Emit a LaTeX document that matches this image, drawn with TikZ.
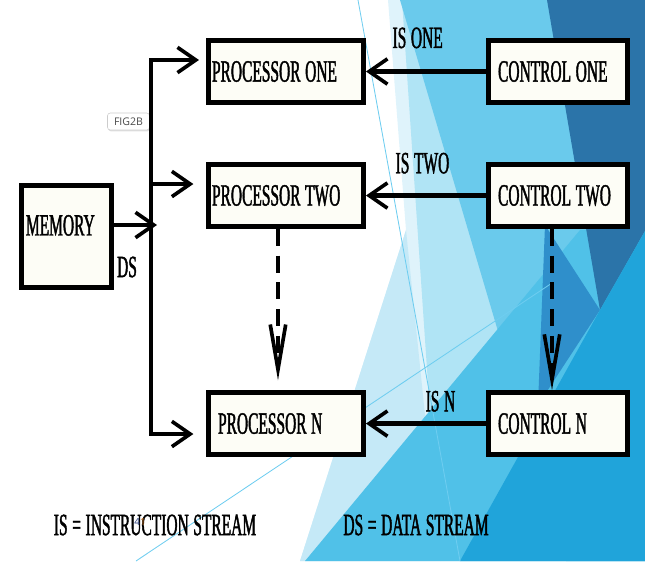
\documentclass[tikz,border=0pt]{standalone}
\usepackage{fontspec}
\usepackage{xcolor}
\usepackage{tikz}
\usetikzlibrary{arrows.meta,positioning,shadows}
\newfontfamily\slidefont[FakeStretch=0.5,FakeBold=1.3,WordSpace=1.2]{Liberation Serif}
\newfontfamily\tagfont{Open Sans}
\tikzset{
  font={\slidefont\fontsize{22pt}{24pt}\selectfont}
}
\definecolor{boxfill}{RGB}{253,253,246}
\definecolor{bgPale}{RGB}{223,243,251}
\definecolor{bgPaleB}{RGB}{197,233,247}
\definecolor{bgLight}{RGB}{176,228,245}
\definecolor{bgMid}{RGB}{106,202,236}
\definecolor{bgTeal}{RGB}{80,193,232}
\definecolor{bgDark}{RGB}{43,116,169}
\definecolor{bgMed}{RGB}{47,143,203}
\definecolor{bgBright}{RGB}{32,164,218}
\definecolor{bgLine}{RGB}{110,205,240}
\definecolor{numblue}{RGB}{40,60,120}
\definecolor{numorange}{RGB}{200,110,30}
\tikzstyle{block}=[draw, line width=3.5pt, fill=boxfill, minimum height=1.55cm, align=flush left, on grid]
\tikzstyle{proc}=[block, inner xsep=0.0875cm, text width=3.7cm]
\tikzstyle{ctrl}=[block, inner xsep=0.2375cm, text width=3cm]
\tikzstyle{line}=[draw, line width=3pt, -{Straight Barb[length=13pt,width=18pt,line width=2.6pt]}]
\tikzstyle{dline}=[draw, line width=3pt, dash pattern=on 12pt off 7pt, -{Straight Barb[length=32pt,width=11pt,line width=2.6pt]}]
\tikzstyle{lab}=[inner sep=0pt]
\tikzstyle{tag}=[draw=black!20, fill=white, rounded corners=2pt, minimum width=1.05cm, minimum height=0.425cm, inner sep=0pt,
  font={\tagfont\fontsize{7.5pt}{9pt}\selectfont}, text=black!70, drop shadow={shadow xshift=0.5pt, shadow yshift=-1pt, opacity=0.25}]

\begin{document}
\begin{tikzpicture}[x=0.025cm, y=-0.025cm, node distance=3cm]
\useasboundingbox (0,0) rectangle (645,561);

% slide background
\fill[bgPale] (388,0) -- (645,0) -- (645,561) -- (300,561) -- (406,230) -- cycle;
\fill[bgPaleB] (300,561) -- (406,230) -- (440,561) -- cycle;
\fill[bgLight] (402,0) -- (645,0) -- (645,561) -- (440,561) -- cycle;
\fill[bgMid] (400,0) -- (645,0) -- (645,561) -- (566,561) -- cycle;
\fill[bgTeal] (305,561) -- (580,230) -- (645,230) -- (645,561) -- cycle;
\fill[bgDark] (547,0) -- (645,0) -- (645,231) -- (600,310) -- cycle;
\fill[bgMed] (545,225) -- (600,310) -- (538,405) -- cycle;
\fill[bgBright] (460,561) -- (600,310) -- (645,231) -- (645,561) -- cycle;
\draw[bgLine, line width=0.6pt] (358,0) -- (460,561);
\draw[bgLine, line width=0.6pt] (136,561) -- (552,283);

\node[block, minimum width=2.25cm, minimum height=2.55cm, inner xsep=0.1125cm, text width=2.025cm] (mem) at (66.5,236.5) {\raisebox{16pt}{MEMORY}};

\node[proc] (pone) at (286,71.5) {PROCESSOR ONE};
\node[proc, below=3.1cm of pone] (ptwo) {PROCESSOR TWO};
\node[proc, below=5.7cm of ptwo] (pn) {\hspace*{4.3pt}PROCESSOR N};

\node[ctrl, right=6.8cm of pone] (cone) {CONTROL ONE};
\node[ctrl, right=6.8cm of ptwo] (ctwo) {CONTROL TWO};
\node[ctrl, right=6.8cm of pn] (cn) {CONTROL N};

\node[tag] (fig) at (128.5,121.5) {FIG2B};

% data stream bus
\coordinate (bus1) at (151,60);
\coordinate (bus2) at (151,184);
\coordinate (busN) at (151,434);
\coordinate (dsin) at (157,225);

\draw[line, shorten >=5pt] (bus2) -- (bus1) -- (bus1 -| pone.west);
\draw[line, shorten >=9pt] (bus2) -- (bus2 -| ptwo.west);
\draw[line, shorten >=9pt] (bus2) -- (busN) -- (busN -| pn.west);
\draw[line] (mem.east |- dsin) -- (dsin);
\node[lab] (ds) at (127,267) {DS};

% instruction streams
\draw[line] (cone) -- (pone) node[lab, pos=.57, above=15pt] {IS ONE};
\draw[line] (ctwo) -- (ptwo) node[lab, pos=.53, above=14pt] {IS TWO};
\draw[line] (cn) -- (pn) node[lab, pos=.38, above=7pt] {IS N};

\draw[dline, shorten >=7pt] ([xshift=-5.7pt]ptwo.south) -- ([xshift=-5.7pt]pn.north);
\draw[dline] ([xshift=-4.3pt]ctwo.south) -- ([xshift=-4.3pt]cn.north);

%%% legend
\node[lab] (isdef) at (155,525) {IS = INSTRUCTION STREAM};
\node[lab] (dsdef) at (416,525) {DS = DATA STREAM};
\node[lab, font={\tagfont\fontsize{7pt}{8pt}\selectfont}] (num) at (140,522) {{\color{numblue}4}{\color{numorange}1}};

\end{tikzpicture}
\end{document}
